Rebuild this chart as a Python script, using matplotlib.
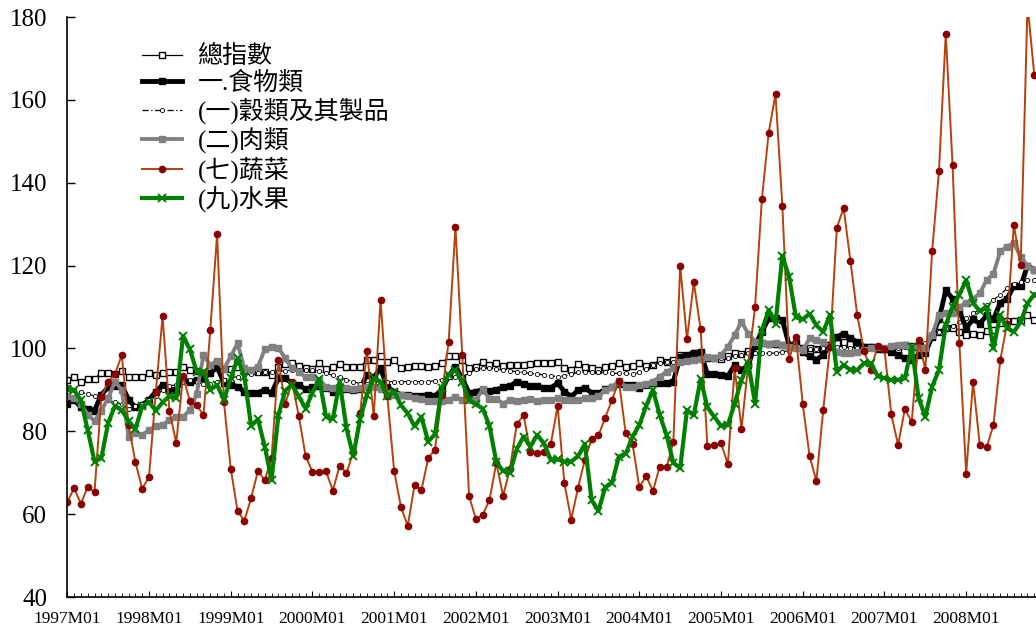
import matplotlib
matplotlib.use("Agg")
import matplotlib.pyplot as plt
import numpy as np

# monthly series, 1997M01 .. 2008M11
years = list(range(1997, 2009))
tick_labels = [f"{y}M01" for y in years]

total = [92.4, 93.0, 92.0, 92.6, 92.7, 94.1, 94.1, 93.8, 94.6, 93.2, 93.0, 93.0,
         94.1, 93.6, 94.1, 94.4, 94.4, 95.6, 94.8, 94.6, 94.1, 95.2, 96.8, 95.0,
         95.0, 95.6, 94.8, 94.6, 94.4, 94.4, 93.6, 95.6, 96.3, 96.4, 95.8, 95.2,
         95.0, 96.6, 95.0, 95.6, 96.3, 95.6, 95.6, 95.4, 97.3, 97.3, 98.1, 96.8,
         97.1, 95.2, 95.4, 95.8, 95.8, 95.6, 95.8, 96.4, 98.1, 98.1, 97.3, 95.2,
         95.6, 96.8, 96.0, 96.4, 95.8, 96.0, 96.0, 96.0, 96.3, 96.4, 96.4, 96.4,
         96.8, 95.2, 94.8, 96.3, 95.6, 95.2, 94.8, 95.6, 95.8, 96.4, 95.6, 95.8,
         96.6, 95.8, 96.0, 97.3, 96.8, 97.3, 98.4, 98.1, 98.8, 98.9, 97.6, 97.6,
         97.4, 98.1, 98.8, 98.6, 99.5, 100.5, 101.2, 101.0, 101.0, 100.8, 100.6, 100.6,
         100.2, 100.0, 99.8, 100.2, 100.8, 101.4, 101.6, 101.0, 100.6, 100.4, 100.4, 100.2,
         99.8, 99.6, 99.5, 100.8, 100.6, 100.6, 100.0, 102.8, 104.0, 104.9, 105.0, 104.0,
         103.2, 103.6, 103.2, 104.2, 104.4, 106.2, 106.7, 106.7, 106.9, 108.1, 106.9]

food = [86.7, 87.6, 85.8, 85.5, 85.0, 88.8, 90.6, 90.9, 91.2, 87.6, 85.8, 86.3,
        87.6, 89.6, 91.2, 90.0, 90.0, 92.4, 92.0, 92.4, 92.8, 94.0, 95.5, 91.7,
        91.2, 90.8, 89.6, 89.2, 89.3, 90.0, 89.2, 92.8, 92.8, 91.6, 91.2, 90.1,
        90.6, 90.9, 90.5, 89.6, 90.3, 90.1, 90.0, 90.2, 93.7, 93.0, 95.2, 90.6,
        89.6, 88.8, 88.8, 88.6, 88.6, 88.8, 88.6, 90.0, 93.3, 95.6, 92.8, 89.2,
        89.6, 90.0, 89.8, 90.0, 90.6, 90.9, 92.0, 91.5, 90.9, 90.9, 90.5, 90.5,
        91.6, 89.6, 88.4, 89.9, 90.5, 89.3, 89.2, 90.1, 90.6, 91.5, 91.2, 91.2,
        90.5, 91.2, 91.7, 91.6, 91.6, 92.0, 98.0, 98.4, 99.0, 99.1, 93.8, 93.8,
        93.6, 93.3, 96.0, 94.8, 96.0, 100.8, 104.0, 107.3, 107.3, 106.9, 100.8, 101.2,
        99.2, 98.1, 97.3, 98.4, 100.8, 102.8, 103.6, 102.4, 101.6, 100.4, 100.4, 99.8,
        99.8, 99.2, 98.4, 97.6, 97.3, 98.4, 98.8, 103.0, 107.0, 114.0, 112.0, 109.0,
        105.0, 107.0, 106.0, 108.0, 107.0, 111.0, 112.0, 115.0, 115.0, 120.0, 119.0]

cereal = [90.6, 90.0, 89.5, 89.0, 88.5, 88.0, 87.6, 87.0, 86.5, 85.5, 86.0, 86.7,
          87.6, 88.5, 90.0, 91.0, 91.2, 92.0, 92.4, 92.0, 91.5, 91.5, 92.0, 92.5,
          93.0, 93.2, 93.5, 93.8, 94.0, 94.2, 94.4, 94.4, 94.6, 94.8, 94.8, 94.8,
          94.8, 94.5, 94.0, 93.5, 93.0, 92.5, 92.0, 91.5, 91.5, 92.0, 92.0, 92.0,
          92.0, 92.0, 92.0, 92.0, 92.0, 92.0, 92.2, 92.5, 93.0, 93.2, 93.2, 94.0,
          95.0, 95.2, 95.2, 95.0, 94.8, 94.6, 94.4, 94.2, 94.0, 93.8, 93.6, 93.4,
          93.2, 93.4, 93.8, 94.2, 94.4, 94.4, 94.4, 94.2, 94.0, 94.0, 94.0, 93.8,
          94.2, 95.0, 96.0, 96.5, 96.8, 96.8, 97.0, 97.3, 97.4, 97.4, 97.4, 97.5,
          97.6, 97.8, 98.1, 98.5, 98.9, 98.9, 98.9, 98.8, 98.9, 99.2, 99.5, 99.8,
          99.8, 99.8, 99.9, 100.0, 100.2, 100.4, 100.4, 100.2, 100.2, 100.0, 100.0, 100.4,
          100.4, 100.2, 100.2, 100.4, 100.4, 100.6, 101.2, 102.8, 104.0, 104.9, 105.3, 106.5,
          107.3, 108.5, 109.3, 110.5, 111.7, 113.0, 114.5, 115.5, 116.1, 116.5, 116.5]

meat = [88.4, 88.0, 86.7, 84.0, 82.5, 85.0, 88.0, 92.0, 90.0, 78.7, 79.6, 79.1,
        80.3, 81.2, 81.5, 82.8, 83.5, 83.5, 85.1, 89.0, 98.4, 96.0, 97.0, 95.0,
        98.1, 101.2, 95.2, 94.8, 95.6, 99.8, 100.4, 100.2, 97.6, 95.2, 94.4, 93.0,
        93.2, 92.4, 90.8, 90.5, 91.0, 90.5, 90.2, 90.5, 90.6, 90.6, 90.2, 89.3,
        88.8, 88.8, 88.4, 88.0, 87.8, 87.2, 87.2, 87.4, 87.6, 88.3, 87.6, 87.6,
        87.6, 90.1, 87.8, 87.8, 86.7, 87.6, 87.3, 87.6, 87.8, 87.4, 87.6, 87.6,
        88.0, 87.6, 87.6, 87.6, 88.0, 88.0, 88.4, 90.0, 90.6, 92.2, 90.8, 90.8,
        91.2, 91.5, 92.0, 93.2, 94.4, 95.2, 96.8, 97.0, 97.3, 97.4, 98.0, 97.6,
        98.4, 100.4, 103.2, 106.4, 103.6, 101.6, 101.2, 101.0, 101.2, 100.8, 100.4, 100.0,
        99.6, 102.4, 102.0, 101.6, 100.4, 99.2, 98.8, 98.8, 99.2, 99.6, 100.0, 100.4,
        100.2, 100.6, 100.8, 100.8, 100.4, 100.0, 100.0, 103.2, 108.1, 108.5, 108.5, 110.1,
        111.0, 112.0, 113.3, 116.5, 118.0, 123.4, 124.6, 125.4, 122.1, 120.0, 119.0]

veg = [62.9, 66.3, 62.5, 66.6, 65.3, 88.3, 91.9, 93.8, 98.4, 81.5, 72.6, 66.1,
       69.0, 89.5, 107.8, 84.9, 77.2, 93.3, 87.3, 86.3, 83.9, 104.4, 127.6, 87.1,
       71.0, 60.8, 58.4, 63.9, 70.4, 68.2, 73.5, 97.2, 86.6, 91.9, 83.7, 74.0,
       70.2, 70.2, 70.3, 65.7, 71.7, 69.9, 75.0, 84.4, 99.4, 83.7, 111.7, 88.4,
       70.4, 61.7, 57.2, 67.1, 65.8, 73.5, 75.6, 88.8, 101.6, 129.4, 98.4, 64.4,
       58.8, 59.8, 63.4, 72.4, 64.4, 71.0, 81.7, 83.9, 75.1, 74.7, 75.1, 76.9,
       86.1, 67.4, 58.7, 66.4, 73.1, 78.1, 79.0, 83.3, 87.6, 92.2, 79.5, 77.0,
       66.5, 69.2, 65.6, 71.5, 71.3, 77.5, 120.0, 102.2, 116.0, 104.6, 76.4, 76.7,
       77.1, 72.1, 95.2, 80.6, 96.2, 110.1, 136.1, 152.1, 161.4, 134.5, 97.4, 102.8,
       86.6, 74.0, 68.0, 85.1, 100.4, 129.1, 133.9, 121.1, 108.0, 99.4, 94.9, 100.6,
       99.8, 84.1, 76.7, 85.5, 82.2, 102.0, 94.9, 123.5, 142.8, 176.0, 144.2, 101.2,
       69.7, 92.0, 76.7, 76.1, 81.5, 97.1, 106.0, 129.8, 120.1, 183.0, 166.0]

fruit = [90.1, 90.0, 87.5, 80.3, 72.7, 73.5, 82.0, 86.1, 85.1, 82.5, 80.5, 86.0,
         87.0, 85.0, 87.0, 88.5, 88.0, 103.0, 99.8, 94.4, 94.4, 90.0, 91.2, 87.6,
         92.8, 97.6, 93.2, 81.3, 82.9, 76.3, 68.3, 83.9, 89.8, 91.2, 88.4, 85.5,
         89.3, 92.6, 83.5, 83.0, 92.0, 80.7, 74.0, 83.0, 88.8, 92.8, 92.0, 88.4,
         89.6, 86.3, 84.3, 81.2, 83.5, 77.5, 79.3, 90.5, 93.7, 94.8, 92.0, 87.6,
         86.5, 85.5, 81.3, 72.6, 70.4, 70.0, 75.7, 78.7, 76.3, 79.1, 77.1, 73.1,
         73.2, 72.7, 72.7, 74.0, 76.9, 63.4, 60.8, 66.5, 67.6, 73.9, 74.5, 78.7,
         81.5, 86.1, 90.0, 83.9, 79.1, 72.4, 71.1, 85.1, 83.9, 92.6, 85.8, 83.5,
         81.3, 81.5, 86.7, 92.4, 96.4, 86.7, 104.4, 109.3, 106.0, 122.4, 117.2, 107.5,
         107.0, 108.4, 105.6, 104.0, 108.1, 94.4, 96.0, 94.8, 94.8, 96.4, 96.5, 93.3,
         92.8, 92.4, 92.4, 92.8, 100.4, 88.1, 83.5, 90.8, 94.8, 105.7, 110.1, 113.0,
         116.5, 111.0, 109.0, 110.0, 100.0, 108.0, 104.9, 104.0, 106.4, 110.9, 113.0]

serif = ["Liberation Serif", "Noto Sans CJK TC"]
plt.rcParams["font.family"] = serif

fig = plt.figure(figsize=(10.36, 6.27), dpi=100)
ax = fig.add_axes([66.6 / 1036, 1 - 597 / 627, 1 - 66.6 / 1036, 580 / 627])

x = np.arange(len(total))

ax.plot(x, total, color="black", lw=0.9, marker="s", ms=5, mfc="white",
        mec="black", mew=1.0, label="總指數")
ax.plot(x, food, color="black", lw=3.5, marker="s", ms=4, mfc="black",
        mec="black", label="一.食物類")
ax.plot(x, cereal, color="black", lw=0.9, ls=(0, (5, 2, 1, 2)), marker="o",
        ms=3, mfc="white", mec="black", mew=0.6, label="(一)穀類及其製品")
ax.plot(x, meat, color="#808080", lw=2.8, marker="s", ms=4, mfc="#808080",
        mec="#808080", label="(二)肉類")
ax.plot(x, veg, color="#b5410c", lw=1.4, marker="o", ms=4.5, mfc="#8b0000",
        mec="#8b0000", label="(七)蔬菜")
ax.plot(x, fruit, color="#008000", lw=3.0, marker="x", ms=6, mew=1.4,
        mec="#008000", label="(九)水果")

ax.set_xlim(-0.1, 142.25)
ax.set_ylim(40, 180)
ax.set_yticks(range(40, 181, 20))
ax.set_xticks(range(0, len(years) * 12, 12))
ax.set_xticklabels(tick_labels)
ax.set_xticks(x, minor=True)

for s in ["top", "right"]:
    ax.spines[s].set_visible(False)
ax.spines["left"].set_linewidth(1.2)
ax.spines["bottom"].set_linewidth(1.2)

ax.tick_params(axis="y", direction="in", length=6, width=1, labelsize=18, pad=14)
ax.tick_params(axis="x", which="major", direction="in", length=4, labelsize=12.5, pad=10)
ax.tick_params(axis="x", which="minor", direction="in", length=3)

leg = ax.legend(loc="upper left", bbox_to_anchor=(0.055, 0.99), frameon=False,
                handlelength=1.6, handletextpad=0.6, labelspacing=0.12,
                prop={"family": serif, "size": 18})

fig.savefig("out.png", dpi=100)
